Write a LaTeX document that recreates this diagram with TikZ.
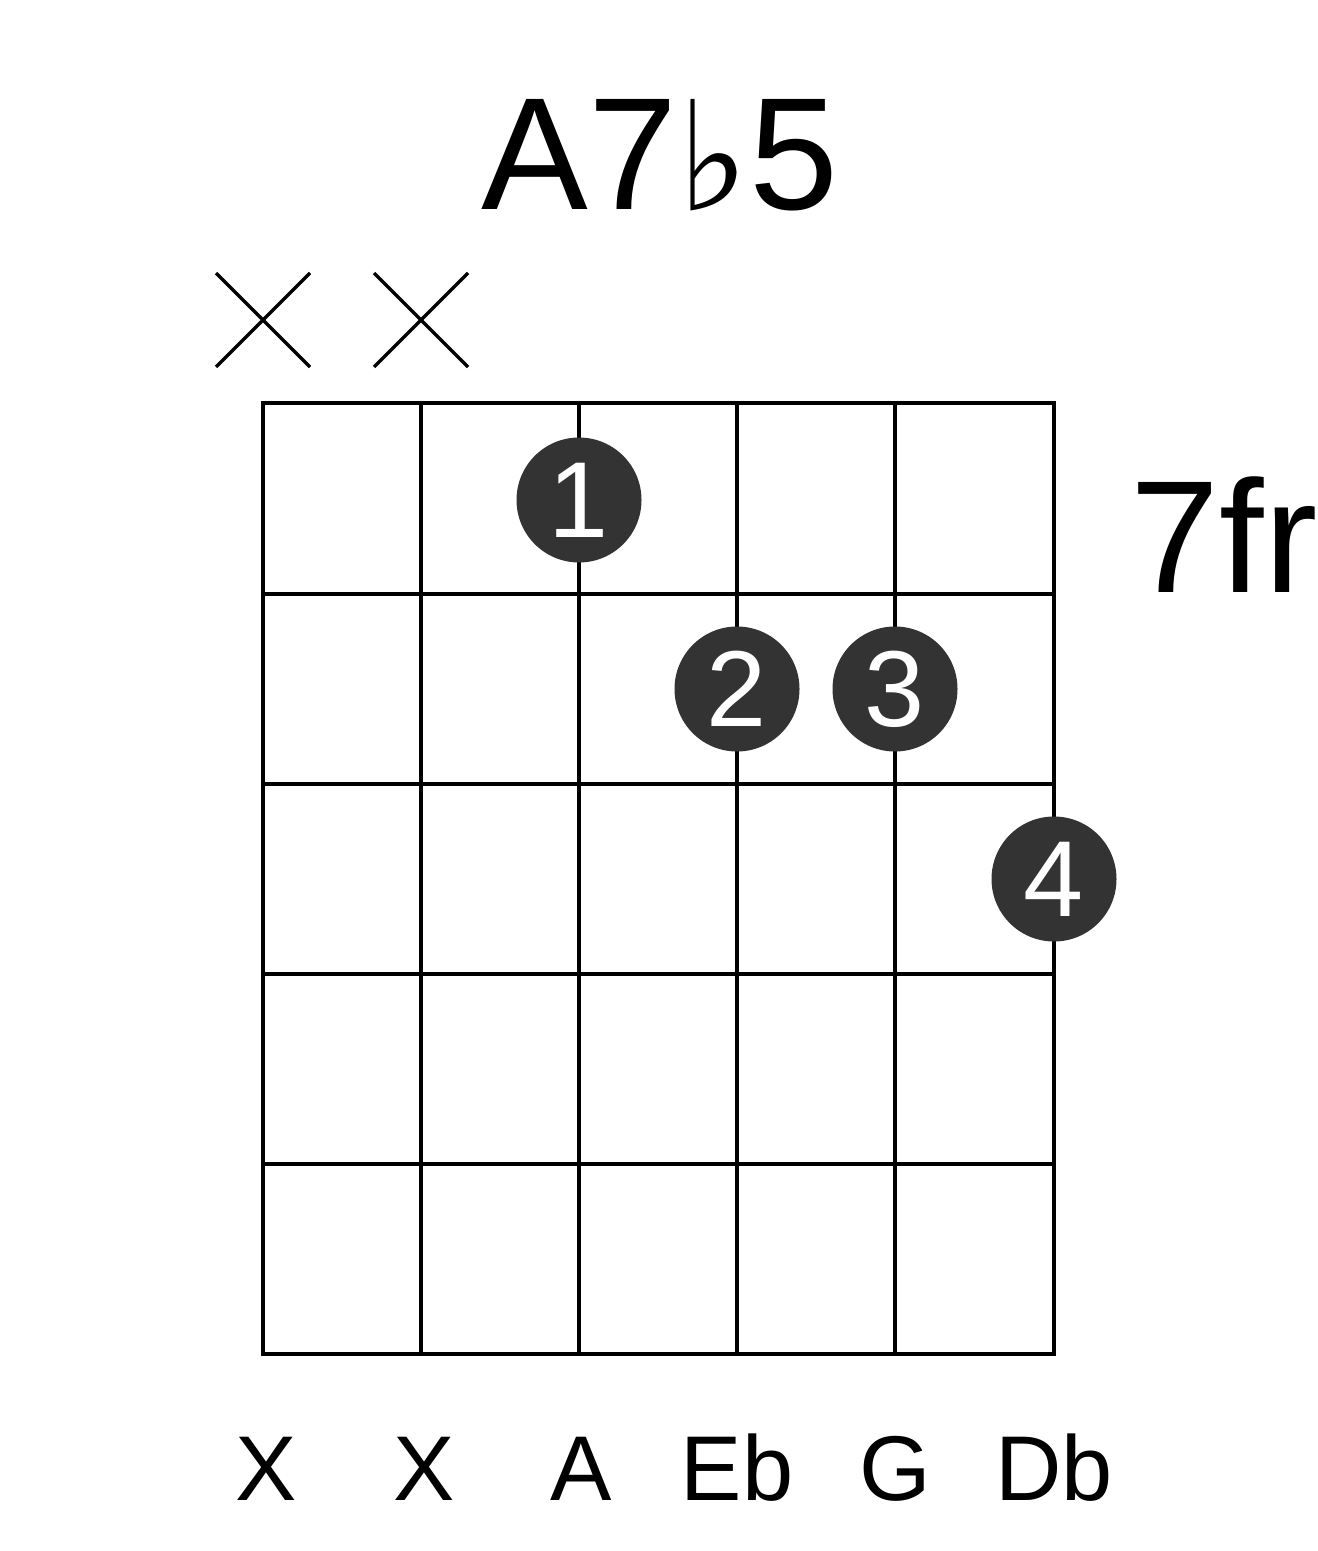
\documentclass[tikz,border=0pt]{standalone}
\usepackage{fontspec}
\setmainfont{Liberation Sans}
\newfontfamily\symfont{DejaVu Sans}
\usepackage{xcolor}
\usetikzlibrary{positioning}
\definecolor{dotgray}{HTML}{333333}
\tikzset{%
	finger/.style={
		circle,
		fill=dotgray,
		text=white,
		inner sep=0pt,
		minimum size=62.5pt,
		font=\fontsize{54}{54}\selectfont
	},
	notelabel/.style={
		anchor=base,
		inner sep=0pt,
		font=\fontsize{46}{46}\selectfont
	},
}
\begin{document}
\begin{tikzpicture}[x=0.5pt,y=-0.5pt]
			\useasboundingbox (0,0) rectangle (1317,1551);
			
			% Draw the title
			\node[anchor=base, inner sep=0pt, font=\fontsize{80}{80}\selectfont] (title) at (660,210)
				{A7{\symfont\fontsize{76}{76}\selectfont\raisebox{-0.5pt}{♭}}5};
			
			% Draw the muted strings
			\coordinate (m1) at (263,320);
			\coordinate (m2) at (421,320);
			\draw[line width=1.6pt] ([shift={(-47,-47)}]m1) -- ([shift={(47,47)}]m1);
			\draw[line width=1.6pt] ([shift={(-47,47)}]m1) -- ([shift={(47,-47)}]m1);
			\draw[line width=1.6pt] ([shift={(-47,-47)}]m2) -- ([shift={(47,47)}]m2);
			\draw[line width=1.6pt] ([shift={(-47,47)}]m2) -- ([shift={(47,-47)}]m2);
			
			% Draw the strings
			\coordinate (t1) at (263,403); \coordinate (b1) at (263,1354);
			\coordinate (t2) at (421,403); \coordinate (b2) at (421,1354);
			\coordinate (t3) at (579,403); \coordinate (b3) at (579,1354);
			\coordinate (t4) at (737,403); \coordinate (b4) at (737,1354);
			\coordinate (t5) at (895,403); \coordinate (b5) at (895,1354);
			\coordinate (t6) at (1054,403); \coordinate (b6) at (1054,1354);
			\draw[line width=2pt] (t1) rectangle (b6);
			\draw[line width=2pt] (t2) -- (b2);
			\draw[line width=2pt] (t3) -- (b3);
			\draw[line width=2pt] (t4) -- (b4);
			\draw[line width=2pt] (t5) -- (b5);
			
			% Draw the frets
			\draw[line width=2pt] (263,594) -- (1054,594);
			\draw[line width=2pt] (263,784) -- (1054,784);
			\draw[line width=2pt] (263,974) -- (1054,974);
			\draw[line width=2pt] (263,1164) -- (1054,1164);
			
			% Draw the fingers
			\node[finger] (f1) at (579,500) {1};
			\node[finger] (f2) at (737,689) {2};
			\node[finger] (f3) at (895,689) {3};
			\node[finger] (f4) at (1054,879) {4};
			
			% Draw the fret number
			\node[anchor=base, inner sep=0pt, font=\fontsize{80}{80}\selectfont] (fret) at (1224,592) {7fr};
			
			% Draw the notes
			\node[notelabel] (n1) at (266,1500) {X};
			\node[notelabel] (n2) at (424,1500) {X};
			\node[notelabel] (n3) at (581,1500) {A};
			\node[notelabel] (n4) at (737,1500) {Eb};
			\node[notelabel] (n5) at (895,1500) {G};
			\node[notelabel] (n6) at (1054,1500) {Db};

		\end{tikzpicture}
\end{document}
